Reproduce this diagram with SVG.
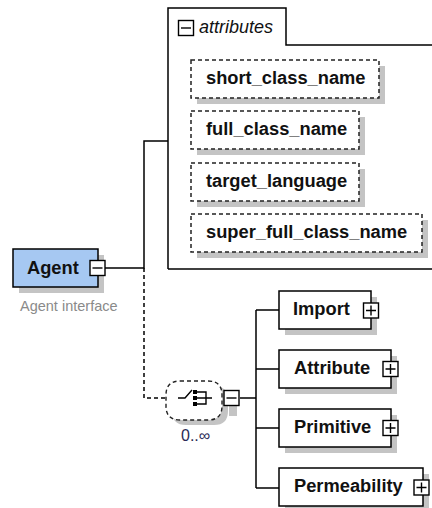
<svg xmlns="http://www.w3.org/2000/svg" width="432" height="508" viewBox="0 0 432 508">
<style>
.bg{fill:#ffffff}
.shadow{fill:#c4c4c4;stroke:none}
.node{fill:#ffffff;stroke:#000;stroke-width:1.5}
.root{fill:#a6c8f2;stroke:#000;stroke-width:1.5}
.attr{fill:#ffffff;stroke:#222;stroke-width:1.5;stroke-dasharray:4 3}
.lbl{font-family:"Liberation Sans",Arial,sans-serif;font-size:18.3px;font-weight:bold;fill:#111}
.note{font-family:"Liberation Sans",Arial,sans-serif;font-size:14.5px;fill:#8a8a8a}
.occ{font-family:"Liberation Sans",Arial,sans-serif;font-size:16px;fill:#2a2a55}
.ital{font-family:"Liberation Sans",Arial,sans-serif;font-size:18px;font-style:italic;fill:#111}
.line{fill:none;stroke:#000;stroke-width:1.5}
.dash{fill:none;stroke:#000;stroke-width:1.5;stroke-dasharray:4 3}
.btn{fill:#ffffff;stroke:#000;stroke-width:1.4}
.sym{fill:none;stroke:#000;stroke-width:1.4}
</style>
<defs>
<g id="plus"><rect class="btn" x="-7.5" y="-7.5" width="15" height="15"/><path class="sym" d="M-5,0H5M0,-5V5"/></g>
<g id="minus"><rect class="btn" x="-7.5" y="-7.5" width="15" height="15"/><path class="sym" d="M-5,0H5"/></g>
</defs>
<rect class="bg" x="0" y="0" width="432" height="508"/>

<g id="connectors">
<path class="line" d="M105,268H144V141H168"/>
<path class="dash" d="M144,268V398H166"/>
<path class="line" d="M240,398H256M256,310V488M256,310H279M256,369H279M256,428H279M256,488H279"/>
</g>

<g id="attributes">
<path class="line" d="M168,269V8H286V45H434"/>
<path class="line" d="M168,269H434"/>
<use href="#minus" x="186" y="28"/>
<text class="ital" x="199" y="33">attributes</text>
</g>

<g id="short_class_name">
<rect class="shadow" x="197" y="66" width="188" height="38"/>
<rect class="attr" x="191" y="60" width="188" height="38"/>
<text class="lbl" x="206" y="84">short_class_name</text>
</g>
<g id="full_class_name">
<rect class="shadow" x="197" y="117" width="168" height="38"/>
<rect class="attr" x="191" y="111" width="168" height="38"/>
<text class="lbl" x="206" y="135">full_class_name</text>
</g>
<g id="target_language">
<rect class="shadow" x="197" y="169" width="168" height="38"/>
<rect class="attr" x="191" y="163" width="168" height="38"/>
<text class="lbl" x="206" y="187">target_language</text>
</g>
<g id="super_full_class_name">
<rect class="shadow" x="197" y="220" width="231" height="38"/>
<rect class="attr" x="191" y="214" width="231" height="38"/>
<text class="lbl" x="206" y="238">super_full_class_name</text>
</g>

<g id="Agent">
<rect class="shadow" x="19" y="255" width="85" height="38"/>
<rect class="root" x="13" y="249" width="85" height="38"/>
<text class="lbl" x="27" y="274">Agent</text>
<use href="#minus" x="97.5" y="268"/>
<text class="note" x="20" y="311">Agent interface</text>
</g>

<g id="choice">
<path class="shadow" d="M186,386L214,386Q228,386 228,400L228,411Q228,425 214,425L186,425Q172,425 172,411L172,400Q172,386 186,386Z"/>
<rect class="shadow" x="229" y="396" width="8" height="20"/>
<path fill="#fff" stroke="#222" stroke-width="1.4" stroke-dasharray="4 3" d="M180,381L208,381Q222,381 222,395L222,406Q222,420 208,420L180,420Q166,420 166,406L166,395Q166,381 180,381Z"/>
<path class="sym" d="M178,398H185L192,390"/>
<rect x="193" y="390" width="4" height="4" fill="#000"/>
<rect x="193" y="396" width="4" height="4" fill="#000"/>
<rect x="193" y="402" width="4" height="4" fill="#000"/>
<path class="sym" d="M197,392H206V404H197M197,398H212"/>
<use href="#minus" x="231.5" y="398"/>
<text class="occ" x="181" y="441">0..∞</text>
</g>

<g id="Import">
<rect class="shadow" x="285" y="297" width="92" height="38"/>
<rect class="node" x="279" y="291" width="92" height="38"/>
<text class="lbl" x="293" y="315">Import</text>
<use href="#plus" x="371" y="310.5"/>
</g>
<g id="Attribute">
<rect class="shadow" x="285" y="356" width="112" height="38"/>
<rect class="node" x="279" y="350" width="112" height="38"/>
<text class="lbl" x="294" y="374">Attribute</text>
<use href="#plus" x="390.5" y="369"/>
</g>
<g id="Primitive">
<rect class="shadow" x="285" y="415" width="112" height="38"/>
<rect class="node" x="279" y="409" width="112" height="38"/>
<text class="lbl" x="294" y="433">Primitive</text>
<use href="#plus" x="390.5" y="428"/>
</g>
<g id="Permeability">
<rect class="shadow" x="285" y="474" width="144" height="38"/>
<rect class="node" x="279" y="468" width="144" height="38"/>
<text class="lbl" x="294" y="492">Permeability</text>
<use href="#plus" x="421.5" y="487.5"/>
</g>
</svg>
